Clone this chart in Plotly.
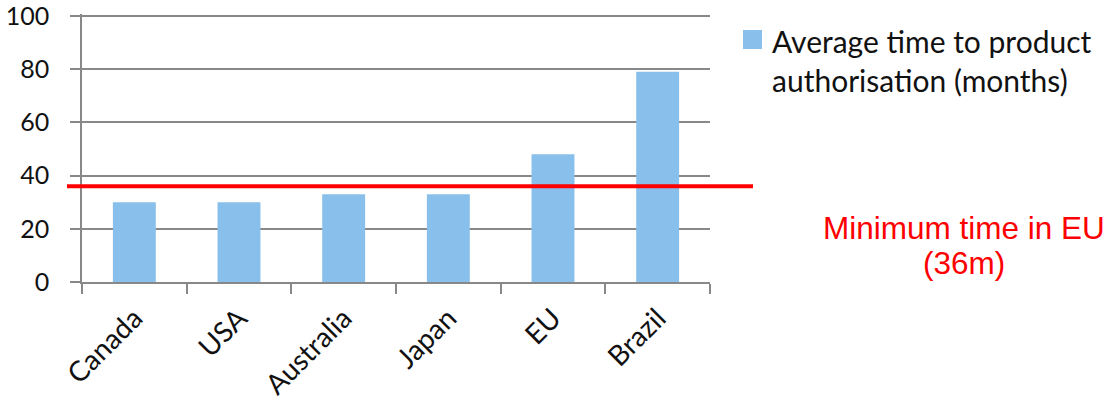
import plotly.graph_objects as go

# Average months to product authorisation by market
countries = ["Canada", "USA", "Australia", "Japan", "EU", "Brazil"]
months = [30, 30, 33, 33, 48, 79]
eu_minimum = 36
y_ticks = [0, 20, 40, 60, 80, 100]
series_name = ["Average time to product", "authorisation (months)"]
note_lines = ["Minimum time in EU", f"({eu_minimum}m)"]

bar_color = "#88BFEB"
grid_color = "#888888"
text_color = "#111111"
sans = "Lato, 'Open Sans', sans-serif"

# Plot area in pixels (used to place the key and the note).
# The top sits a little above the 100 gridline so that gridline is kept.
PLOT_L, PLOT_R, PLOT_T, PLOT_B = 82, 710, 14, 282
PX_PER_UNIT = (282 - 16) / 100
Y_TOP = (PLOT_B - PLOT_T) / PX_PER_UNIT
PW, PH = PLOT_R - PLOT_L, PLOT_B - PLOT_T


def px_x(px):
    return (px - PLOT_L) / PW


def px_y(py):
    return (PLOT_B - py) / PH


fig = go.Figure()
fig.add_trace(go.Bar(
    x=countries,
    y=months,
    marker=dict(color=bar_color, line=dict(width=0)),
    name=" ".join(series_name),
    showlegend=False,
))

# Series key: swatch plus two-line label
fig.add_shape(
    type="rect", xref="paper", yref="paper",
    x0=px_x(743), x1=px_x(762), y0=px_y(49), y1=px_y(30),
    fillcolor=bar_color, line=dict(width=0),
)
fig.add_annotation(
    xref="paper", yref="paper",
    x=px_x(770), y=px_y(60),
    text="<br>".join(series_name),
    showarrow=False, align="left",
    xanchor="left", yanchor="middle",
    font=dict(family=sans, size=30, color=text_color),
)

# Minimum EU authorisation time, drawn across the plot
fig.add_shape(
    type="line", xref="paper", yref="y",
    x0=px_x(67), x1=px_x(753), y0=eu_minimum, y1=eu_minimum,
    line=dict(color="#FF0000", width=4),
    layer="above",
)
for line_text, cy in zip(note_lines, [228, 263]):
    fig.add_annotation(
        xref="paper", yref="paper",
        x=px_x(964), y=px_y(cy),
        text=line_text,
        showarrow=False,
        font=dict(family="'Liberation Sans', Arial, sans-serif", size=31.5, color="#FF0000"),
        xanchor="center", yanchor="middle",
    )

fig.update_layout(
    width=1109, height=406,
    margin=dict(l=PLOT_L, r=1109 - PLOT_R, t=PLOT_T, b=406 - PLOT_B, autoexpand=False),
    paper_bgcolor="white", plot_bgcolor="white",
    bargap=0.59,
    font=dict(family=sans, size=26, color=text_color),
    showlegend=False,
    xaxis=dict(
        showline=True, linecolor=grid_color, linewidth=1.5,
        ticks="outside", ticklen=10, tickcolor=grid_color, tickwidth=1.5,
        tickson="boundaries",
        tickangle=-45,
        ticklabelstandoff=7,
        showgrid=False,
        tickfont=dict(family=sans, size=28, color=text_color),
    ),
    yaxis=dict(
        range=[0, Y_TOP], tickvals=y_ticks,
        showgrid=True, gridcolor=grid_color, gridwidth=1.5,
        showline=True, linecolor=grid_color, linewidth=1.5,
        ticks="outside", ticklen=10, tickcolor=grid_color, tickwidth=1.5,
        ticklabelstandoff=16,
        ticklabeloverflow="allow",
        zeroline=False,
        tickfont=dict(family=sans, size=25, color=text_color),
    ),
)

fig.write_html("out.html")
